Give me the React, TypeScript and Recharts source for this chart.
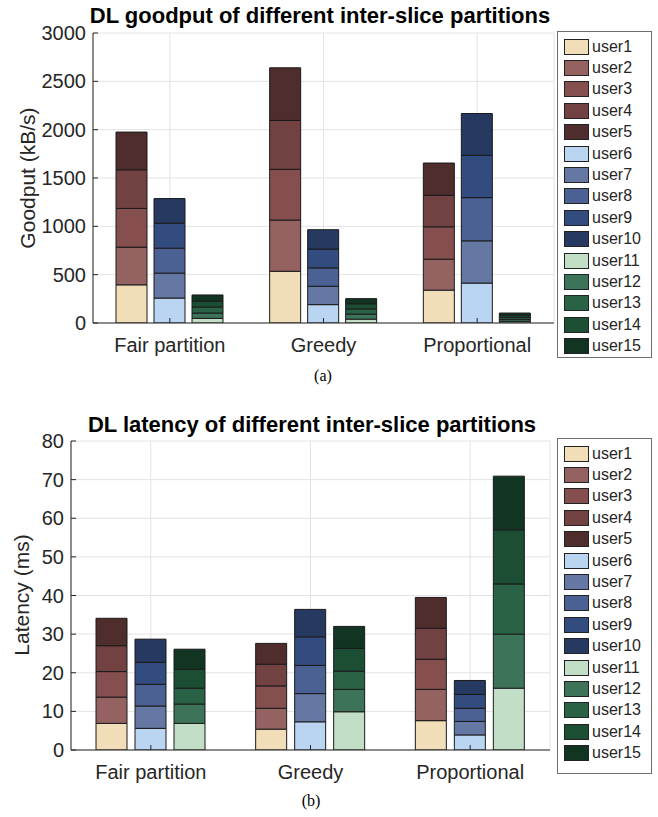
import React from 'react'
import { BarChart, Bar, XAxis, YAxis, CartesianGrid } from 'recharts'

const categories = ['Fair partition', 'Greedy', 'Proportional']
const users = ['user1', 'user2', 'user3', 'user4', 'user5', 'user6', 'user7', 'user8', 'user9', 'user10', 'user11', 'user12', 'user13', 'user14', 'user15']
const userColors = ['#f2ddb9', '#956262', '#864f4f', '#724242', '#4f2d2d', '#bad5f2', '#6478a3', '#4b6193', '#334c80', '#263961', '#c2dec6', '#3d7358', '#2a6246', '#1c4e34', '#123523']

// goodput in kB/s, one value per user (user1..user15)
const goodputFair = [395, 390, 400, 400, 390, 258, 258, 258, 258, 255, 48, 55, 62, 62, 63]
const goodputGreedy = [535, 530, 525, 505, 545, 190, 190, 190, 195, 200, 40, 52, 54, 53, 53]
const goodputProportional = [340, 320, 335, 325, 335, 413, 437, 447, 437, 433, 18, 20, 21, 22, 22]

// latency in ms
const latencyFair = [6.9, 6.8, 6.6, 6.7, 7.1, 5.6, 5.8, 5.6, 5.7, 6.0, 6.9, 5.0, 4.1, 4.9, 5.2]
const latencyGreedy = [5.4, 5.4, 5.8, 5.6, 5.4, 7.3, 7.3, 7.3, 7.4, 7.1, 9.9, 5.8, 4.7, 5.9, 5.7]
const latencyProportional = [7.6, 8.1, 7.8, 8.0, 8.0, 3.9, 3.5, 3.4, 3.6, 3.6, 16.0, 14.0, 13.0, 14.0, 13.9]

const goodputTicks = [0, 500, 1000, 1500, 2000, 2500, 3000]
const latencyTicks = [0, 10, 20, 30, 40, 50, 60, 70, 80]

const font = "'Liberation Sans', Arial, sans-serif"
const textColor = '#262626'
const tickLen = 5

function buildRows(table: number[][]) {
  return categories.map((name, i) => {
    const row: Record<string, string | number> = { name }
    users.forEach((u, j) => {
      row[u] = table[i][j]
    })
    return row
  })
}

const goodputRows = buildRows([goodputFair, goodputGreedy, goodputProportional])
const latencyRows = buildRows([latencyFair, latencyGreedy, latencyProportional])

const Y_MARGIN = 7
const X_MARGIN = 13

function LeftTick(props: any) {
  const { x, y, payload } = props
  const ax = x + Y_MARGIN
  return (
    <g>
      <line x1={ax} x2={ax + tickLen} y1={y} y2={y} stroke={textColor} />
      <text x={x} y={y} dy='0.355em' textAnchor='end' fontFamily={font} fontSize={20} fill={textColor}>
        {payload.value}
      </text>
    </g>
  )
}

function RightTick(props: any) {
  const { x, y } = props
  return <line x1={x - tickLen} x2={x} y1={y} y2={y} stroke={textColor} />
}

function BottomTick(props: any) {
  const { x, y, payload } = props
  const ay = y - X_MARGIN
  return (
    <g>
      <line x1={x} x2={x} y1={ay} y2={ay - tickLen} stroke={textColor} />
      <text x={x} y={y} dy='0.8em' textAnchor='middle' fontFamily={font} fontSize={20} fill={textColor}>
        {payload.value}
      </text>
    </g>
  )
}

function TopTick(props: any) {
  const { x, y } = props
  return <line x1={x} x2={x} y1={y} y2={y + tickLen} stroke={textColor} />
}

function UserLegend({ top, height }: { top: number; height: number }) {
  return (
    <div
      style={{
        position: 'absolute',
        left: 557,
        top,
        width: 95,
        height,
        border: '1px solid #6e6e6e',
        boxSizing: 'border-box',
        background: '#fff',
        fontFamily: font,
        fontSize: 16,
        color: textColor,
        paddingTop: 4
      }}
    >
      {users.map((u, j) => (
        <div key={u} style={{ display: 'flex', alignItems: 'center', height: 21.4, marginLeft: 6 }}>
          <div style={{ width: 25, height: 16, background: userColors[j], border: '1px solid #222', boxSizing: 'border-box' }} />
          <span style={{ marginLeft: 3 }}>{u}</span>
        </div>
      ))}
    </div>
  )
}

interface PanelProps {
  rows: Array<Record<string, string | number>>
  ticks: number[]
  top: number
  width: number
  height: number
  yAxisWidth: number
  margin: { top: number; right: number; left: number; bottom: number }
  barSize: number
  barGap: number
}

function Panel({ rows, ticks, top, width, height, yAxisWidth, margin, barSize, barGap }: PanelProps) {
  const domain = [ticks[0], ticks[ticks.length - 1]]
  return (
    <div style={{ position: 'absolute', left: 0, top }}>
      <BarChart width={width} height={height} data={rows} margin={margin} barSize={barSize} barGap={barGap}>
        <CartesianGrid stroke='#e3e3e3' strokeWidth={1} />
        <XAxis
          dataKey='name'
          tick={<BottomTick />}
          tickLine={false}
          tickSize={0}
          tickMargin={X_MARGIN}
          axisLine={{ stroke: textColor }}
          height={40}
          interval={0}
        />
        <XAxis
          xAxisId='top'
          dataKey='name'
          orientation='top'
          tick={<TopTick />}
          tickLine={false}
          tickSize={0}
          tickMargin={0}
          axisLine={{ stroke: textColor }}
          height={0}
          interval={0}
        />
        <YAxis
          domain={domain}
          ticks={ticks}
          tick={<LeftTick />}
          tickLine={false}
          tickSize={0}
          tickMargin={Y_MARGIN}
          axisLine={{ stroke: textColor }}
          width={yAxisWidth}
          allowDataOverflow
        />
        <YAxis
          yAxisId='right'
          orientation='right'
          domain={domain}
          ticks={ticks}
          tick={<RightTick />}
          tickLine={false}
          tickSize={0}
          tickMargin={0}
          axisLine={{ stroke: textColor }}
          width={0}
        />
        {users.map((u, j) => (
          <Bar
            key={u}
            dataKey={u}
            stackId={'slice' + Math.floor(j / 5)}
            fill={userColors[j]}
            stroke='#1a1a1a'
            strokeWidth={1}
            isAnimationActive={false}
          />
        ))}
      </BarChart>
    </div>
  )
}

function Title({ text, top, center }: { text: string; top: number; center: number }) {
  return (
    <div
      style={{
        position: 'absolute',
        left: center - 300,
        width: 600,
        top,
        textAlign: 'center',
        fontFamily: font,
        fontWeight: 'bold',
        fontSize: 22,
        color: '#000',
        whiteSpace: 'nowrap'
      }}
    >
      {text}
    </div>
  )
}

function YLabel({ text, x, y }: { text: string; x: number; y: number }) {
  return (
    <div
      style={{
        position: 'absolute',
        left: x - 150,
        top: y - 13,
        width: 300,
        height: 26,
        lineHeight: '26px',
        textAlign: 'center',
        transform: 'rotate(-90deg)',
        fontFamily: font,
        fontSize: 21,
        color: textColor,
        whiteSpace: 'nowrap'
      }}
    >
      {text}
    </div>
  )
}

function Caption({ text, top, center }: { text: string; top: number; center: number }) {
  return (
    <div
      style={{
        position: 'absolute',
        left: center - 50,
        width: 100,
        top,
        textAlign: 'center',
        fontFamily: "'Liberation Serif', 'Times New Roman', serif",
        fontSize: 16,
        color: '#000'
      }}
    >
      {text}
    </div>
  )
}

export default function App() {
  return (
    <div style={{ position: 'absolute', left: 0, top: 0, width: 658, height: 817, background: '#fff', overflow: 'hidden' }}>
      <Panel
        rows={goodputRows}
        ticks={goodputTicks}
        top={0}
        width={658}
        height={363}
        yAxisWidth={93}
        margin={{ top: 33, right: 104, left: 0, bottom: 0 }}
        barSize={31}
        barGap={7}
      />
      <Title text='DL goodput of different inter-slice partitions' top={3} center={320} />
      <YLabel text='Goodput (kB/s)' x={28} y={178} />
      <Caption text='(a)' top={367} center={323} />
      <UserLegend top={31} height={327} />

      <Panel
        rows={latencyRows}
        ticks={latencyTicks}
        top={400}
        width={658}
        height={390}
        yAxisWidth={71}
        margin={{ top: 41, right: 108, left: 0, bottom: 0 }}
        barSize={31}
        barGap={8}
      />
      <Title text='DL latency of different inter-slice partitions' top={412} center={312} />
      <YLabel text='Latency (ms)' x={22} y={595} />
      <Caption text='(b)' top={792} center={311} />
      <UserLegend top={438} height={336} />
    </div>
  )
}
